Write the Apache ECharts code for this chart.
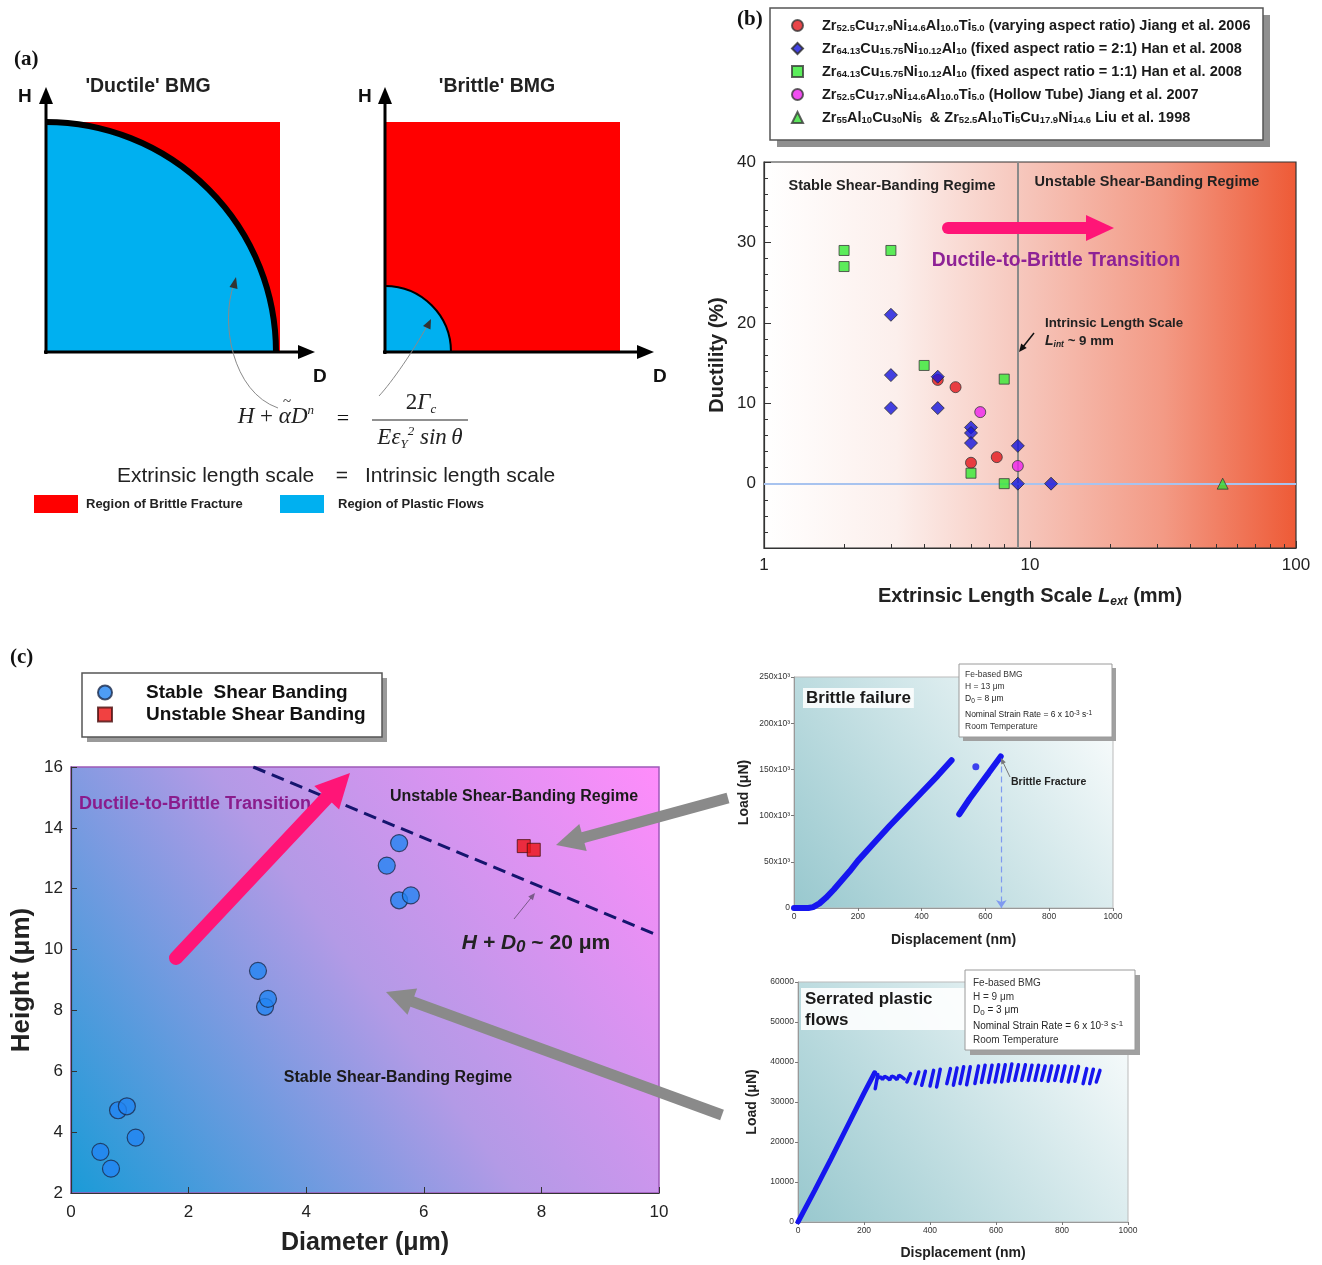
<!DOCTYPE html>
<html><head><meta charset="utf-8">
<script src="https://cdn.jsdelivr.net/npm/echarts@6/dist/echarts.min.js"></script>
<style>html,body{margin:0;padding:0;background:#fff}#c{width:1322px;height:1265px}</style>
</head><body><div id="c"></div>
<script>
// ================= DATA =================
// Panel (b): ductility vs extrinsic length scale
const bNames = [
  'Zr{52.5}Cu{17.9}Ni{14.6}Al{10.0}Ti{5.0} (varying aspect ratio) Jiang et al. 2006',
  'Zr{64.13}Cu{15.75}Ni{10.12}Al{10} (fixed aspect ratio = 2:1) Han et al. 2008',
  'Zr{64.13}Cu{15.75}Ni{10.12}Al{10} (fixed aspect ratio = 1:1) Han et al. 2008',
  'Zr{52.5}Cu{17.9}Ni{14.6}Al{10.0}Ti{5.0} (Hollow Tube) Jiang et al. 2007',
  'Zr{55}Al{10}Cu{30}Ni{5}  & Zr{52.5}Al{10}Ti{5}Cu{17.9}Ni{14.6} Liu et al. 1998'
];
const bRedX = [4.5, 5.25, 6, 7.5];
const bRedY = [12.9, 12.0, 2.6, 3.3];
const bBlueX = [3, 3, 3, 4.5, 4.5, 6, 6, 6, 9, 9, 12];
const bBlueY = [21, 13.5, 9.4, 13.3, 9.4, 7.0, 6.3, 5.05, 4.7, 0, 0];
const bGreenX = [2, 2, 3, 4, 8, 6, 8];
const bGreenY = [29, 27, 29, 14.7, 13, 1.3, 0];
const bMagX = [6.5, 9];
const bMagY = [8.9, 2.2];
const bTriX = [53];
const bTriY = [0];
const bIntrinsic = 9;
const bYMajorTicks = [0, 10, 20, 30, 40];
const bYMinorTicks = [-6, -4, -2, 2, 4, 6, 8, 12, 14, 16, 18, 22, 24, 26, 28, 32, 34, 36, 38];
const bXMinorTicks = [2, 3, 4, 5, 6, 7, 8, 9, 20, 30, 40, 50, 60, 70, 80, 90];

// Panel (c): height vs diameter
const cNames = ['Stable  Shear Banding', 'Unstable Shear Banding'];
const cStableX = [0.5, 0.68, 0.8, 0.95, 1.1, 3.18, 3.3, 3.35, 5.37, 5.58, 5.58, 5.78];
const cStableY = [3.35, 2.8, 4.72, 4.85, 3.82, 9.3, 8.12, 8.38, 12.76, 13.5, 11.62, 11.78];
const cUnstableX = [7.7, 7.87];
const cUnstableY = [13.4, 13.28];
const cBoundaryX = [3.1, 10];
const cBoundaryY = [16, 10.45];

// Inset: brittle failure (nm, µN)
const brX1 = [0, 20, 45, 60, 80, 100, 125, 150, 175, 200, 250, 300, 350, 400, 450, 494];
const brY1 = [0, 0, 0, 1000, 5000, 11000, 20000, 30000, 40000, 51000, 70000, 89000, 107000, 125000, 143000, 160000];
const brX2 = [518, 550, 580, 610, 648];
const brY2 = [101500, 118000, 132000, 146000, 164000];
const brDotX = [570];
const brDotY = [153000];
const brFractureX = 650;
const brFractureY = 164000;

// Inset: serrated plastic flows (nm, µN)
const seX = [0, 50, 100, 150, 200, 232];
const seY = [0, 7800, 15800, 24000, 32200, 37300];
const seTeethX = [242, 250, 256, 262, 270, 278, 284, 292, 300, 306, 314, 322];
const seTeethY = [36000, 36300, 35600, 36400, 36100, 35500, 36500, 36200, 35600, 36700, 36300, 35800];
const stroke0X = [234, 330, 355, 375, 400, 420, 451, 471, 491, 511, 536, 556, 577, 597, 617, 637, 657, 678, 698, 718, 738, 758, 778, 798, 819, 839, 864, 884, 904];
const stroke0Y = [33300, 35000, 34600, 34200, 34000, 33750, 34600, 34200, 34600, 34300, 34600, 34900, 34900, 35000, 35000, 35200, 35400, 35400, 35400, 35400, 35400, 35200, 35400, 35200, 35000, 35200, 34600, 34600, 35000];
const stroke1X = [242, 341, 366, 386, 411, 431, 462, 482, 502, 522, 547, 567, 588, 608, 628, 648, 668, 689, 709, 729, 749, 769, 789, 809, 830, 850, 875, 895, 915];
const stroke1Y = [36900, 37100, 37500, 37700, 37900, 38200, 38350, 38500, 38800, 38800, 39000, 39200, 39200, 39300, 39300, 39500, 39300, 39300, 39200, 39200, 39000, 39000, 39000, 39000, 38800, 38900, 38350, 38200, 37900];

// ================= HELPERS =================
const FF = '"Liberation Sans", Arial, Helvetica, sans-serif';
const SERIF = '"Liberation Serif", "Times New Roman", serif';
const pairs = (xs, ys) => xs.map((x, i) => [x, ys[i]]);
const LG = echarts.graphic.LinearGradient;

function toRich(s) {
  let out = '', last = 0, m; const re = /\{([^}]*)\}/g;
  while ((m = re.exec(s))) {
    if (m.index > last) out += '{n|' + s.slice(last, m.index) + '}';
    out += '{s|' + m[1] + '}';
    last = re.lastIndex;
  }
  if (last < s.length) out += '{n|' + s.slice(last) + '}';
  return out;
}
function T(x, y, text, o) {
  o = o || {};
  const al = o.align || 'left';
  return {type: 'text', x: x, y: y, z: o.z || 100, style: Object.assign({
    text: text, fill: o.color || '#222', fontSize: o.size || 14, fontWeight: o.weight || 'bold',
    fontFamily: o.family || FF, fontStyle: o.fstyle || 'normal',
    align: al, verticalAlign: 'middle', textAlign: al, textVerticalAlign: 'middle'
  }, o.extra || {})};
}
function L(x1, y1, x2, y2, color, w, o) {
  o = o || {};
  return {type: 'line', z: o.z || 100, shape: {x1, y1, x2, y2}, style: {stroke: color, lineWidth: w, lineCap: o.cap || 'butt', lineDash: o.dash || null}};
}
function P(points, color, z) { return {type: 'polygon', z: z || 100, shape: {points: points}, style: {fill: color}}; }
function R(x, y, w, h, style, z) { return {type: 'rect', z: z === undefined ? 100 : z, shape: {x, y, width: w, height: h}, style: style}; }
function arrow(x1, y1, x2, y2, w, hl, hw, color, cap, z) {
  const dx = x2 - x1, dy = y2 - y1, len = Math.hypot(dx, dy), ux = dx / len, uy = dy / len;
  const bx = x2 - ux * hl, by = y2 - uy * hl, px = -uy, py = ux;
  return [
    L(x1, y1, bx + ux * 2, by + uy * 2, color, w, {cap: cap || 'butt', z: z}),
    P([[x2, y2], [bx + px * hw, by + py * hw], [bx - px * hw, by - py * hw]], color, z)
  ];
}

// ================= GRAPHIC (schematic + annotations) =================
const els = [];
// ---- Panel (a) ----
els.push(T(14, 60, '(a)', {size: 21, family: SERIF, color: '#111'}));
els.push(R(46, 122, 234, 230, {fill: '#ff0000'}, 10));
els.push({type: 'sector', z: 11, shape: {cx: 46, cy: 352, r: 230, r0: 0, startAngle: -Math.PI / 2, endAngle: 0, clockwise: true}, style: {fill: '#00b0f0'}});
els.push({type: 'arc', z: 12, shape: {cx: 46, cy: 352, r: 230, startAngle: -Math.PI / 2, endAngle: 0, clockwise: true}, style: {stroke: '#000', lineWidth: 6, fill: 'none'}});
els.push(L(46, 354, 46, 100, '#000', 3));
els.push(P([[46, 87], [39, 104], [53, 104]], '#000'));
els.push(L(44, 352, 302, 352, '#000', 3));
els.push(P([[315, 352], [298, 345], [298, 359]], '#000'));
els.push(T(18, 97, 'H', {size: 19, color: '#111'}));
els.push(T(313, 377, 'D', {size: 19, color: '#111'}));
els.push(T(148, 87, "'Ductile' BMG", {size: 19.5, align: 'center', color: '#222'}));

els.push(R(385, 122, 235, 230, {fill: '#ff0000'}, 10));
els.push({type: 'sector', z: 11, shape: {cx: 385, cy: 352, r: 66, r0: 0, startAngle: -Math.PI / 2, endAngle: 0, clockwise: true}, style: {fill: '#00b0f0'}});
els.push({type: 'arc', z: 12, shape: {cx: 385, cy: 352, r: 66, startAngle: -Math.PI / 2, endAngle: 0, clockwise: true}, style: {stroke: '#000', lineWidth: 2, fill: 'none'}});
els.push(L(385, 354, 385, 100, '#000', 3));
els.push(P([[385, 87], [378, 104], [392, 104]], '#000'));
els.push(L(383, 352, 641, 352, '#000', 3));
els.push(P([[654, 352], [637, 345], [637, 359]], '#000'));
els.push(T(358, 97, 'H', {size: 19, color: '#111'}));
els.push(T(653, 377, 'D', {size: 19, color: '#111'}));
els.push(T(497, 87, "'Brittle' BMG", {size: 19.5, align: 'center', color: '#222'}));

// curved pointer arrows
els.push({type: 'bezierCurve', z: 100, shape: {x1: 278, y1: 408, cpx1: 232, cpy1: 392, cpx2: 220, cpy2: 322, x2: 234, y2: 284}, style: {stroke: '#8a8a8a', lineWidth: 1, fill: 'none'}});
els.push(P([[236, 277], [229.5, 287], [237.5, 289]], '#333'));
els.push({type: 'bezierCurve', z: 100, shape: {x1: 379, y1: 396, cpx1: 392, cpy1: 382, cpx2: 414, cpy2: 350, x2: 427, y2: 326}, style: {stroke: '#8a8a8a', lineWidth: 1, fill: 'none'}});
els.push(P([[431, 319], [423, 326], [430.5, 329.5]], '#333'));

// equation
const eqRich = {
  i: {fontFamily: SERIF, fontStyle: 'italic', fontSize: 23, color: '#111', lineHeight: 26},
  r: {fontFamily: SERIF, fontSize: 23, color: '#111', lineHeight: 26},
  sup: {fontFamily: SERIF, fontStyle: 'italic', fontSize: 13, color: '#111', lineHeight: 13, verticalAlign: 'top'},
  sub: {fontFamily: SERIF, fontStyle: 'italic', fontSize: 13, color: '#111', lineHeight: 11, verticalAlign: 'bottom'}
};
els.push(T(314, 417, '{i|H}{r| + }{i|\u03B1D}{sup|n}', {align: 'right', weight: 'normal', family: SERIF, extra: {rich: eqRich}}));
els.push(T(287, 402, '~', {size: 15, weight: 'normal', family: SERIF, align: 'center', color: '#111'}));
els.push(T(343, 419, '=', {size: 22, weight: 'normal', family: SERIF, align: 'center', color: '#111'}));
els.push(T(421, 403, '{r|2}{i|\u0393}{sub|c}', {align: 'center', weight: 'normal', family: SERIF, extra: {rich: eqRich}}));
els.push(L(372, 420, 468, 420, '#222', 1.2));
els.push(T(420, 438, '{i|E\u03B5}{sub|Y}{sup|2}{r| }{i|sin\u2009\u03B8}', {align: 'center', weight: 'normal', family: SERIF, extra: {rich: eqRich}}));

els.push(T(117, 476, 'Extrinsic length scale', {size: 21, weight: 'normal', color: '#222'}));
els.push(T(342, 476, '=', {size: 21, weight: 'normal', color: '#222', align: 'center'}));
els.push(T(365, 476, 'Intrinsic length scale', {size: 21, weight: 'normal', color: '#222'}));
els.push(R(34, 495, 44, 18, {fill: '#ff0000'}));
els.push(R(280, 495, 44, 18, {fill: '#00b0f0'}));
const NARROW = '"Liberation Sans Narrow", "Arial Narrow", ' + FF;
els.push(T(86, 504, 'Region of Brittle Fracture', {size: 13, family: NARROW, color: '#222'}));
els.push(T(338, 504, 'Region of Plastic Flows', {size: 13, family: NARROW, color: '#222'}));

// ---- Panel (b) ----
els.push(T(737, 20, '(b)', {size: 21, family: SERIF, color: '#111'}));
els.push(R(777, 15, 493, 132, {fill: '#8f8f8f'}, 2));
els.push(R(770, 8, 493, 132, {fill: '#ffffff', stroke: '#555', lineWidth: 1.5}, 3));
els.push(T(892, 186, 'Stable Shear-Banding Regime', {size: 14.5, align: 'center', color: '#222'}));
els.push(T(1147, 182, 'Unstable Shear-Banding Regime', {size: 14.5, align: 'center', color: '#222'}));
els.push(...arrow(948, 228, 1114, 228, 12, 28, 13, '#ff1577', 'round'));
els.push(T(1056, 261, 'Ductile-to-Brittle Transition', {size: 19.3, align: 'center', color: '#8e2296'}));
els.push(T(1045, 323, 'Intrinsic Length Scale', {size: 13.3, color: '#222'}));
els.push(T(1045, 341, '{i|L}{s|int}{n| ~ 9 mm}', {extra: {rich: {
  i: {fontSize: 14, fontWeight: 'bold', fontStyle: 'italic', color: '#222', lineHeight: 16},
  s: {fontSize: 8.5, fontWeight: 'bold', fontStyle: 'italic', color: '#222', lineHeight: 8, verticalAlign: 'bottom'},
  n: {fontSize: 13.3, fontWeight: 'bold', color: '#222', lineHeight: 16}}}}));
els.push(...arrow(1034, 333, 1019, 352, 1.5, 8, 3.5, '#111'));

// ---- Panel (c) ----
els.push(T(10, 658, '(c)', {size: 21, family: SERIF, color: '#111'}));
els.push(R(87, 678, 300, 64, {fill: '#9a9a9a'}, 2));
els.push(R(82, 673, 300, 64, {fill: '#ffffff', stroke: '#555', lineWidth: 1.5}, 3));
els.push(T(195, 804, 'Ductile-to-Brittle Transition', {size: 18, align: 'center', color: '#8a1c8c'}));
els.push(T(514, 797, 'Unstable Shear-Banding Regime', {size: 16, align: 'center', color: '#1a1a1a'}));
els.push(T(398, 1078, 'Stable Shear-Banding Regime', {size: 16, align: 'center', color: '#1a1a1a'}));
els.push(...arrow(176, 958, 350, 773, 14, 34, 17, '#ff1577', 'round'));
els.push(T(536, 943, '{i|H + D}{s|0}{n| ~ 20 \u03BCm}', {align: 'center', extra: {rich: {
  i: {fontSize: 21, fontWeight: 'bold', fontStyle: 'italic', color: '#1c1c6a', lineHeight: 26},
  s: {fontSize: 17, fontWeight: 'bold', fontStyle: 'italic', color: '#1c1c6a', lineHeight: 18, verticalAlign: 'bottom'},
  n: {fontSize: 21, fontWeight: 'bold', color: '#1c1c6a', lineHeight: 26}}}}));
els.push(...arrow(514, 919, 535, 893, 1, 7, 3, '#7a5a8a'));
els.push(...arrow(728, 798, 556, 845, 11, 28, 14, '#8a8a8a'));
els.push(...arrow(722, 1115, 386, 992, 11, 28, 14, '#8a8a8a'));

// ---- Inset 1 (brittle) ----
els.push(T(803, 698, 'Brittle failure', {size: 17, color: '#1a1a1a', extra: {backgroundColor: 'rgba(255,255,255,0.85)', padding: [2, 3, 1, 3]}}));
els.push(R(963, 668, 153, 73, {fill: '#a0a0a0'}, 99));
els.push(R(959, 664, 153, 73, {fill: '#ffffff', stroke: '#9a9a9a', lineWidth: 1}, 99));
const infoRich = (fs) => ({
  n: {fontSize: fs, color: '#333', lineHeight: fs + 3},
  s: {fontSize: fs - 2, color: '#333', lineHeight: fs - 2, verticalAlign: 'bottom'},
  p: {fontSize: fs - 2, color: '#333', lineHeight: fs - 2, verticalAlign: 'top'}
});
els.push(T(965, 675, 'Fe-based BMG', {size: 8.5, weight: 'normal', color: '#333'}));
els.push(T(965, 687, 'H = 13 \u03BCm', {size: 8.5, weight: 'normal', color: '#333'}));
els.push(T(965, 699, '{n|D}{s|0}{n| = 8 \u03BCm}', {weight: 'normal', extra: {rich: infoRich(8.5)}}));
els.push(T(965, 715, '{n|Nominal Strain Rate = 6 x 10}{p|-3}{n| s}{p|-1}', {weight: 'normal', extra: {rich: infoRich(8.5)}}));
els.push(T(965, 727, 'Room Temperature', {size: 8.5, weight: 'normal', color: '#333'}));
els.push(T(1011, 782, 'Brittle Fracture', {size: 10.5, color: '#222'}));
els.push(...arrow(1010, 777, 1001, 758, 1, 6, 2.5, '#777'));

// ---- Inset 2 (serrated) ----
els.push(R(801, 988, 165, 42, {fill: 'rgba(255,255,255,0.88)'}, 99));
els.push(T(805, 999, 'Serrated plastic', {size: 17, color: '#1a1a1a'}));
els.push(T(805, 1020, 'flows', {size: 17, color: '#1a1a1a'}));
els.push(R(970, 975, 170, 80, {fill: '#a0a0a0'}, 99));
els.push(R(965, 970, 170, 80, {fill: '#ffffff', stroke: '#9a9a9a', lineWidth: 1}, 99));
els.push(T(973, 983, 'Fe-based BMG', {size: 10, weight: 'normal', color: '#333'}));
els.push(T(973, 997, 'H = 9 \u03BCm', {size: 10, weight: 'normal', color: '#333'}));
els.push(T(973, 1010, '{n|D}{s|0}{n| = 3 \u03BCm}', {weight: 'normal', extra: {rich: infoRich(10)}}));
els.push(T(973, 1026, '{n|Nominal Strain Rate = 6 x 10}{p|-3}{n| s}{p|-1}', {weight: 'normal', extra: {rich: infoRich(10)}}));
els.push(T(973, 1040, 'Room Temperature', {size: 10, weight: 'normal', color: '#333'}));

// ================= CHART =================
const chart = echarts.init(document.getElementById('c'), null, {renderer: 'canvas'});
const axBase = (color) => ({
  axisLine: {onZero: false, lineStyle: {color: color, width: 1.2}},
  splitLine: {show: false}
});
const insetAxis = {
  axisLine: {onZero: false, lineStyle: {color: '#999', width: 1}},
  axisTick: {length: 3, lineStyle: {color: '#777'}},
  axisLabel: {fontSize: 8.5, color: '#333', margin: 4, formatter: v => String(v)},
  splitLine: {show: false},
  nameLocation: 'middle',
  nameTextStyle: {fontSize: 14, fontWeight: 'bold', color: '#222'}
};

const option = {
  animation: false,
  backgroundColor: '#ffffff',
  textStyle: {fontFamily: FF},
  grid: [
    {left: 764, top: 162, width: 532, height: 386, show: true, borderColor: '#333', borderWidth: 1.2,
      backgroundColor: new LG(0, 0, 1, 0, [{offset: 0, color: '#ffffff'}, {offset: 0.25, color: '#fcefec'}, {offset: 0.5, color: '#f6c4b9'}, {offset: 0.75, color: '#f39a85'}, {offset: 1, color: '#ee5a36'}])},
    {left: 71, top: 767, width: 588, height: 426, show: true, borderColor: '#9d5ab8', borderWidth: 1.5,
      backgroundColor: new LG(0, 1, 1, 0, [{offset: 0, color: '#1a9bd7'}, {offset: 0.5, color: '#b39ae6'}, {offset: 1, color: '#ff8cfb'}])},
    {left: 794, top: 677, width: 319, height: 231, show: true, borderColor: '#bbb', borderWidth: 1,
      backgroundColor: new LG(0, 1, 1, 0, [{offset: 0, color: '#98c8ce'}, {offset: 1, color: '#ffffff'}])},
    {left: 798, top: 982, width: 330, height: 240, show: true, borderColor: '#bbb', borderWidth: 1,
      backgroundColor: new LG(0, 1, 1, 0, [{offset: 0, color: '#98c8ce'}, {offset: 1, color: '#ffffff'}])}
  ],
  xAxis: [
    Object.assign({gridIndex: 0, type: 'log', logBase: 10, min: 1, max: 100, position: 'bottom',
      axisTick: {inside: true, length: 7, lineStyle: {color: '#333'}},
      axisLabel: {fontSize: 17, color: '#222', margin: 9},
      minorTick: {show: false},
      name: '{n|Extrinsic Length Scale }{i|L}{s|ext}{n| (mm)}', nameLocation: 'middle', nameGap: 36,
      nameTextStyle: {rich: {
        n: {fontSize: 20, fontWeight: 'bold', color: '#222', lineHeight: 24},
        i: {fontSize: 20, fontWeight: 'bold', fontStyle: 'italic', color: '#222', lineHeight: 24},
        s: {fontSize: 12, fontWeight: 'bold', fontStyle: 'italic', color: '#222', lineHeight: 10, verticalAlign: 'bottom'}}}
    }, axBase('#333')),
    {gridIndex: 0, type: 'log', logBase: 10, min: 1, max: 100, position: 'bottom',
      axisLine: {show: false, onZero: false}, axisLabel: {show: false}, splitLine: {show: false},
      axisTick: {inside: true, length: 4, customValues: bXMinorTicks, lineStyle: {color: '#333'}}},
    Object.assign({gridIndex: 1, type: 'value', min: 0, max: 10, interval: 2, position: 'bottom',
      axisTick: {inside: true, length: 6, lineStyle: {color: '#333'}},
      axisLabel: {fontSize: 17, color: '#222', margin: 11},
      name: 'Diameter (\u03BCm)', nameLocation: 'middle', nameGap: 38,
      nameTextStyle: {fontSize: 25, fontWeight: 'bold', color: '#222'}}, axBase('#333')),
    Object.assign({gridIndex: 2, type: 'value', min: 0, max: 1000, interval: 200, position: 'bottom',
      name: 'Displacement (nm)', nameGap: 25}, insetAxis),
    Object.assign({gridIndex: 3, type: 'value', min: 0, max: 1000, interval: 200, position: 'bottom',
      name: 'Displacement (nm)', nameGap: 24}, insetAxis)
  ],
  yAxis: [
    Object.assign({gridIndex: 0, type: 'value', min: -8, max: 40, interval: 2, position: 'left',
      axisTick: {inside: true, length: 7, customValues: bYMajorTicks, lineStyle: {color: '#333'}},
      axisLabel: {fontSize: 17, color: '#222', margin: 8, customValues: bYMajorTicks},
      name: 'Ductility (%)', nameLocation: 'middle', nameRotate: 90, nameGap: 37,
      nameTextStyle: {fontSize: 20, fontWeight: 'bold', color: '#222'}}, axBase('#333')),
    {gridIndex: 0, type: 'value', min: -8, max: 40, interval: 2, position: 'left',
      axisLine: {show: false, onZero: false}, axisLabel: {show: false}, splitLine: {show: false},
      axisTick: {inside: true, length: 4, customValues: bYMinorTicks, lineStyle: {color: '#333'}}},
    Object.assign({gridIndex: 1, type: 'value', min: 2, max: 16, interval: 2, position: 'left',
      axisTick: {inside: true, length: 6, lineStyle: {color: '#333'}},
      axisLabel: {fontSize: 17, color: '#222', margin: 8},
      name: 'Height (\u03BCm)', nameLocation: 'middle', nameRotate: 90, nameGap: 36,
      nameTextStyle: {fontSize: 26, fontWeight: 'bold', color: '#222'}}, axBase('#333')),
    Object.assign({gridIndex: 2, type: 'value', min: 0, max: 250000, interval: 50000, position: 'left',
      name: 'Load (\u03BCN)', nameRotate: 90, nameGap: 43}, insetAxis,
      {axisLabel: {fontSize: 8.5, color: '#333', margin: 4, formatter: v => v === 0 ? '0' : (v / 1000) + 'x10\u00B3'}}),
    Object.assign({gridIndex: 3, type: 'value', min: 0, max: 60000, interval: 10000, position: 'left',
      name: 'Load (\u03BCN)', nameRotate: 90, nameGap: 39}, insetAxis)
  ],
  legend: [
    {data: bNames, left: 770, top: 8, orient: 'vertical', padding: [10, 5, 5, 21], itemGap: 7.5,
      itemWidth: 11, itemHeight: 11, selectedMode: false,
      formatter: n => '{sp| }' + toRich(n),
      textStyle: {rich: {
        sp: {width: 14},
        n: {fontSize: 14.5, fontWeight: 'bold', color: '#1a1a1a', lineHeight: 16},
        s: {fontSize: 9.5, fontWeight: 'bold', color: '#1a1a1a', lineHeight: 8, verticalAlign: 'bottom'}}}},
    {data: cNames, left: 82, top: 673, orient: 'vertical', padding: [10, 5, 5, 15], itemGap: 3,
      itemWidth: 14, itemHeight: 14, selectedMode: false,
      formatter: n => '{sp| }{t|' + n + '}',
      textStyle: {rich: {
        sp: {width: 29},
        t: {fontSize: 19, fontWeight: 'bold', color: '#111', lineHeight: 22}}}}
  ],
  series: [
    {type: 'scatter', name: bNames[0], xAxisIndex: 0, yAxisIndex: 0, data: pairs(bRedX, bRedY),
      symbol: 'circle', symbolSize: 11, z: 6, itemStyle: {color: '#e3161c', borderColor: '#3a3a3a', borderWidth: 1},
      markLine: {silent: true, symbol: 'none', z: 1, label: {show: false},
        data: [
          {xAxis: bIntrinsic, lineStyle: {color: '#8a8a8a', width: 2, type: 'solid'}},
          {yAxis: 0, lineStyle: {color: '#a8c3ef', width: 2, type: 'solid'}}
        ]}},
    {type: 'scatter', name: bNames[1], xAxisIndex: 0, yAxisIndex: 0, data: pairs(bBlueX, bBlueY),
      symbol: 'diamond', symbolSize: 13, z: 6, itemStyle: {color: '#1414dc', borderColor: '#2a2a2a', borderWidth: 1}},
    {type: 'scatter', name: bNames[2], xAxisIndex: 0, yAxisIndex: 0, data: pairs(bGreenX, bGreenY),
      symbol: 'rect', symbolSize: 10, z: 6, itemStyle: {color: '#33ea33', borderColor: '#3a3a3a', borderWidth: 1}},
    {type: 'scatter', name: bNames[3], xAxisIndex: 0, yAxisIndex: 0, data: pairs(bMagX, bMagY),
      symbol: 'circle', symbolSize: 11, z: 6, itemStyle: {color: '#ee22ee', borderColor: '#3a3a3a', borderWidth: 1}},
    {type: 'scatter', name: bNames[4], xAxisIndex: 0, yAxisIndex: 0, data: pairs(bTriX, bTriY),
      symbol: 'triangle', symbolSize: 11, z: 6, itemStyle: {color: '#33dd33', borderColor: '#3a3a3a', borderWidth: 1}},

    {type: 'line', name: 'H + D0 boundary', xAxisIndex: 2, yAxisIndex: 2, data: pairs(cBoundaryX, cBoundaryY),
      symbol: 'none', z: 4, lineStyle: {color: '#15156e', width: 3, type: [13, 7]}},
    {type: 'scatter', name: cNames[0], xAxisIndex: 2, yAxisIndex: 2, data: pairs(cStableX, cStableY),
      symbol: 'circle', symbolSize: 17, z: 6, itemStyle: {color: '#2284f2', borderColor: '#1b2b4b', borderWidth: 1.2}},
    {type: 'scatter', name: cNames[1], xAxisIndex: 2, yAxisIndex: 2, data: pairs(cUnstableX, cUnstableY),
      symbol: 'rect', symbolSize: 13, z: 6, itemStyle: {color: '#ee1111', borderColor: '#4a1010', borderWidth: 1}},

    {type: 'line', name: 'brittle-1', xAxisIndex: 3, yAxisIndex: 3, data: pairs(brX1, brY1),
      symbol: 'none', z: 4, lineStyle: {color: '#1616ef', width: 6, cap: 'round'}},
    {type: 'line', name: 'brittle-2', xAxisIndex: 3, yAxisIndex: 3, data: pairs(brX2, brY2),
      symbol: 'none', z: 4, lineStyle: {color: '#1616ef', width: 6, cap: 'round'},
      markLine: {silent: true, symbol: ['none', 'arrow'], symbolSize: 8, z: 3, label: {show: false},
        lineStyle: {color: '#7f9af0', width: 1.2, type: [6, 4]},
        data: [[{coord: [brFractureX, brFractureY]}, {coord: [brFractureX, 0]}]]}},
    {type: 'scatter', name: 'brittle-dot', xAxisIndex: 3, yAxisIndex: 3, data: pairs(brDotX, brDotY),
      symbol: 'circle', symbolSize: 7, z: 4, itemStyle: {color: '#1616ef'}},

    {type: 'line', name: 'serrated-elastic', xAxisIndex: 4, yAxisIndex: 4, data: pairs(seX, seY),
      symbol: 'none', z: 4, lineStyle: {color: '#1616ef', width: 5, cap: 'round'}},
    {type: 'line', name: 'serrated-teeth', xAxisIndex: 4, yAxisIndex: 4, data: pairs(seTeethX, seTeethY),
      symbol: 'none', z: 4, lineStyle: {color: '#1616ef', width: 3.5, cap: 'round'}},
    {type: 'lines', name: 'serrations', coordinateSystem: 'cartesian2d', xAxisIndex: 4, yAxisIndex: 4, z: 4,
      polyline: false, symbol: 'none',
      lineStyle: {color: '#1616ef', width: 3.5, opacity: 1, cap: 'round'},
      data: stroke0X.map((x, i) => ({coords: [[x, stroke0Y[i]], [stroke1X[i], stroke1Y[i]]]}))}
  ],
  graphic: {elements: els}
};
chart.setOption(option);
</script>
</body></html>
